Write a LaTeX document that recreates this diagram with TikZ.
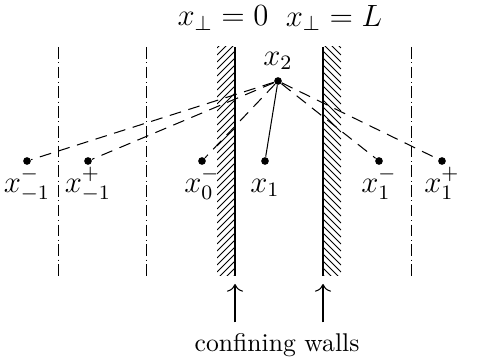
\documentclass[tikz,border=0pt]{standalone}
\usepackage{tikz}
\usetikzlibrary{arrows.meta}

\begin{document}
\begin{tikzpicture}[x=0.39pt, y=-0.39pt,
    every label/.style={font=\large, text height=8pt, text depth=3pt},
    particle/.style={circle, fill, inner sep=0pt, minimum size=3pt},
    tight/.style={label distance=-1pt},
    image/.style={dash pattern=on 4.6pt off 3pt},
    cellline/.style={line width=0.35pt, dash pattern=on 4.5pt off 1.4pt on 0.4pt off 1.4pt},
    wall/.style={line width=0.6pt},
    hatch/.style={line width=0.4pt}]
  \useasboundingbox (0,0) rectangle (494,362);
  % cell boundaries
  \foreach \xx in {58,146,411}
    \draw[cellline] (\xx,47) -- (\xx,276);
  % left wall
  \begin{scope}
    \clip (217,47) rectangle (235,276);
    \foreach \yy in {30,37,...,300}
      \draw[hatch] (217,\yy+18) -- (235,\yy);
  \end{scope}
  \draw[wall] (235,47) -- (235,276);
  % right wall
  \begin{scope}
    \clip (323,47) rectangle (341,276);
    \foreach \yy in {30,37,...,300}
      \draw[hatch] (323,\yy) -- (341,\yy+18);
  \end{scope}
  \draw[wall] (323,47) -- (323,276);
  % wall positions
  \node[font=\large] (posL) at (223,18) {$x_\perp = 0$};
  \node[font=\large] (posR) at (334,18) {$x_\perp = L$};
  % particles
  \node[particle, label={[tight]below:$x_{-1}^-$}] (xmm) at (27,161) {};
  \node[particle, label={[tight]below:$x_{-1}^+$}] (xmp) at (88,161) {};
  \node[particle, label={[tight]below:$x_0^-$}] (xzm) at (202,161) {};
  \node[particle, label={[tight]below:$x_1$}] (xone) at (265,161) {};
  \node[particle, label={[tight]below:$x_1^-$}] (xpm) at (379,161) {};
  \node[particle, label={[tight]below:$x_1^+$}] (xpp) at (442,161) {};
  \node[particle, label={[label distance=-2pt]above:$x_2$}] (xtwo) at (278,81) {};
  % interactions
  \draw[image] (xtwo) -- (xmm);
  \draw[image] (xtwo) -- (xmp);
  \draw[image] (xtwo) -- (xzm);
  \draw[image] (xtwo) -- (xpm);
  \draw[image] (xtwo) -- (xpp);
  \draw (xtwo) -- (xone);
  % caption
  \node (walls) at (277,345) {confining walls};
  \coordinate (tipL) at (235,284);
  \coordinate (tipR) at (323,284);
  \draw[-{To[length=3pt]}] (walls.north -| tipL) ++(0,-2) -- (tipL);
  \draw[-{To[length=3pt]}] (walls.north -| tipR) ++(0,-2) -- (tipR);
\end{tikzpicture}
\end{document}
